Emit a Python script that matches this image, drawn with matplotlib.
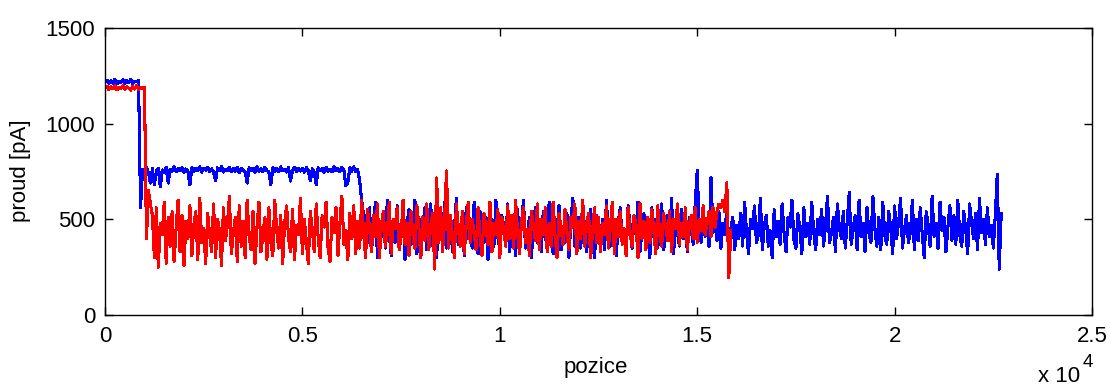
import numpy as np
import matplotlib.pyplot as plt

plt.rcParams['font.family'] = ['Liberation Sans', 'DejaVu Sans']
plt.rcParams['font.size'] = 16

# ----------- DATA (one sample every 50 positions) ----------------------------------
STEP = 50

# blue trace
blue_start = [1215, 1228, 1210, 1224, 1212, 1232, 1208, 1221, 1216, 1229,
              1211, 1225, 1214, 1230, 1209, 1222, 1218, 1224]
blue_drop = [560]
blue_plateau = [760, 720, 770, 745, 690, 765, 680, 752, 768, 670,
                758, 746, 772, 690, 762, 750, 775, 748, 766, 754,
                770, 747, 763, 752, 680, 771, 749, 766, 755, 774,
                746, 768, 757, 772, 750, 764, 748, 700, 769, 753,
                775, 747, 762, 756, 771, 749, 767, 752, 773, 745,
                765, 758, 748, 690, 770, 754, 768, 746, 774, 751,
                763, 749, 772, 755, 747, 680, 769, 752, 766, 748,
                775, 753, 761, 747, 770, 700, 757, 773, 749, 765,
                752, 768, 746, 771, 755, 700, 764, 748, 680, 770,
                754, 767, 747, 773, 751, 762, 749, 776, 753, 766,
                748, 771, 757, 675, 690, 769, 752, 774, 748]
blue_fall = [760, 700, 600, 520]
blue_noise = [520, 380, 560, 330, 470, 590, 300, 450, 410, 540,
              350, 600, 420, 310, 500, 380, 570, 340, 460, 520,
              290, 480, 550, 370, 430, 600, 320, 510, 390, 460,
              560, 340, 410, 580, 360, 490, 300, 530, 440, 380,
              590, 350, 470, 520, 330, 450, 610, 370, 420, 500,
              310, 560, 400, 480, 350, 590, 430, 320, 540, 460,
              380, 510, 290, 570, 440, 360, 600, 410, 340, 520,
              470, 390, 580, 330, 500, 430, 310, 550, 370, 480,
              600, 350, 420, 510, 300, 470, 560, 380, 440, 330,
              540, 410, 360, 590, 450, 320, 500, 430, 570, 340,
              460, 380, 530, 300, 490, 610, 360, 420, 510, 350,
              580, 440, 330, 470, 550, 390, 300, 520, 450, 370,
              500, 340, 600, 410, 360, 540, 430, 310, 480, 560,
              390, 450, 320, 570, 470, 350, 510, 420, 590, 330,
              440, 530, 370, 480, 300, 560, 410, 500, 350, 460,
              580, 340, 420, 520, 390, 610, 320, 470, 430, 360,
              550, 400, 480, 330, 510, 440, 370, 590, 755, 460,
              380, 520, 410, 470, 360, 720, 430, 500, 390, 540,
              350, 480, 420, 560, 380, 450, 510, 340, 470, 400,
              530, 360, 590, 430, 320, 500, 450, 570, 380, 420,
              610, 340, 470, 520, 360, 440, 300, 550, 410, 490,
              370, 580, 430, 330, 510, 460, 600, 390, 350, 530,
              450, 320, 560, 410, 480, 370, 590, 440, 340, 500,
              420, 550, 360, 470, 620, 380, 430, 510, 330, 580,
              460, 400, 540, 350, 490, 640, 370, 450, 520, 340,
              600, 410, 480, 330, 560, 430, 380, 620, 450, 360,
              510, 340, 590, 420, 370, 540, 460, 320, 570, 400,
              480, 610, 350, 450, 520, 380, 430, 600, 340, 500,
              390, 560, 420, 300, 540, 470, 360, 620, 410, 480,
              350, 590, 440, 510, 330, 460, 570, 390, 520, 370,
              600, 420, 360, 540, 450, 320, 580, 480, 400, 530,
              340, 610, 430, 500, 370, 560, 410, 470, 350, 520]
blue_end = [735, 240, 530]

# red trace
red_start = [1185, 1196, 1178, 1192, 1182, 1199, 1176, 1190, 1184, 1197,
             1180, 1193, 1186, 1175, 1195, 1181, 1198, 1179, 1191, 1183, 1188]
red_drop = [400, 650, 580, 520]
red_noise = [300, 560, 250, 480, 420, 590, 270, 510, 360, 540,
             280, 450, 600, 330, 520, 260, 490, 400, 570, 310,
             470, 540, 290, 610, 380, 450, 270, 530, 420, 330,
             580, 300, 500, 440, 260, 560, 390, 470, 620, 320,
             430, 510, 280, 570, 360, 490, 300, 600, 410, 340,
             540, 270, 460, 590, 330, 420, 510, 290, 560, 380,
             310, 600, 440, 350, 520, 270, 480, 570, 400, 330,
             550, 290, 470, 420, 610, 320, 500, 380, 270, 540,
             450, 330, 580, 400, 300, 520, 460, 590, 350, 280,
             510, 430, 560, 310, 480, 620, 370, 440, 290, 530,
             400, 570, 320, 490, 350, 600, 430, 300, 550, 460,
             330, 520, 410, 580, 300, 470, 540, 360, 430, 590,
             320, 500, 450, 560, 340, 410, 600, 370, 480, 310,
             540, 420, 350, 570, 460, 300, 510, 390, 580, 340,
             470, 530, 240, 716, 380, 560, 330, 490, 753, 350,
             520, 410, 300, 580, 450, 360, 540, 320, 470, 590,
             380, 500, 430, 340, 560, 410, 310, 530, 460, 370,
             590, 330, 480, 420, 550, 300, 510, 440, 360, 570,
             400, 520, 350, 600, 430, 320, 490, 560, 380, 450,
             310, 540, 470, 390, 580, 340, 500, 420, 560, 330,
             480, 360, 590, 410, 300, 530, 450, 370, 550, 430,
             340, 510, 460, 580, 320, 490, 400, 600, 360, 470,
             530, 300, 440, 560, 380, 510, 330, 480, 420, 570,
             350, 460, 590, 320, 500, 410, 540, 370, 450, 310,
             560, 430, 360, 520, 470, 300, 580, 400, 490, 340,
             510, 380, 550, 440, 320, 570, 420, 360, 530, 460,
             390, 540, 330, 500, 450, 580, 370, 480, 410, 560,
             340, 470, 520, 400, 560, 380, 500, 440, 570, 420,
             480, 540, 410, 560, 460]
red_end = [540, 580, 560, 600, 540, 690, 195, 440]

x_ticks = [0, 5000, 10000, 15000, 20000, 25000]
x_tick_labels = ['0', '0.5', '1', '1.5', '2', '2.5']
y_ticks = [0, 500, 1000, 1500]

blue = np.array(blue_start + blue_drop + blue_plateau + blue_fall + blue_noise + blue_end)
red = np.array(red_start + red_drop + red_noise + red_end)
blue_pos = np.arange(len(blue)) * STEP
red_pos = np.arange(len(red)) * STEP

# ----------- PLOT ------------
fig = plt.figure(figsize=(11.1, 3.9), dpi=100)
ax = fig.add_axes([0.0946, 0.1923, 0.8892, 0.736])

ax.plot(blue_pos, blue, color='#0000ff', lw=1.5, antialiased=False)
ax.plot(red_pos, red, color='#ff0000', lw=1.5, antialiased=False)

ax.set_xlim(0, 25000)
ax.set_ylim(0, 1500)
ax.set_xticks(x_ticks)
ax.set_xticklabels(x_tick_labels)
ax.set_yticks(y_ticks)
ax.tick_params(axis='x', direction='in', top=True, length=6, width=1, pad=8)
ax.tick_params(axis='y', direction='in', right=True, length=6, width=1, pad=7)
for s in ax.spines.values():
    s.set_linewidth(1)

ax.set_xlabel('pozice')
ax.xaxis.set_label_coords(0.497, -0.145)
ax.set_ylabel('proud [pA]')
ax.yaxis.set_label_coords(-0.075, 0.502)
fig.text(0.935, 0.02, 'x 10', ha='left', va='baseline')
fig.text(0.9757, 0.058, '4', fontsize=13.5, ha='left', va='baseline')

fig.savefig('out.png', dpi=100)
